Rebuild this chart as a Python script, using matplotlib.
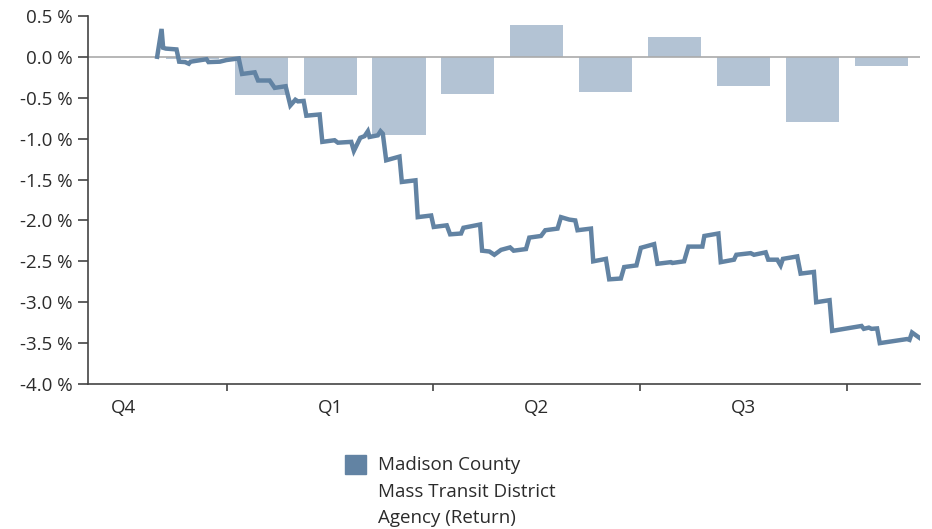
import matplotlib.pyplot as plt
from matplotlib.patches import Rectangle
from matplotlib.ticker import FixedLocator, FuncFormatter

plt.rcParams["font.family"] = ["Open Sans", "DejaVu Sans"]

# Monthly returns (%), bars centred in each month; x measured in months from 1 Jan
months = ["Dec", "Jan", "Feb", "Mar", "Apr", "May", "Jun", "Jul", "Aug", "Sep", "Oct"]
month_pos = [-0.5, 0.5, 1.5, 2.5, 3.5, 4.5, 5.5, 6.5, 7.5, 8.5, 9.5]
monthly_return = [-0.03, -0.47, -0.465, -0.958, -0.456, 0.387, -0.432, 0.244, -0.355, -0.795, -0.11]

# Cumulative return (%) over time, x in months from 1 Jan
cum_x = [-1.01, -0.946, -0.923, -0.884, -0.729, -0.691, -0.604, -0.551, -0.526, -0.294,
         -0.265, -0.101, -0.004, 0.174, 0.222, 0.406, 0.454, 0.623, 0.696, 0.855,
         0.923, 0.996, 1.033, 1.116, 1.155, 1.348, 1.387, 1.565, 1.613, 1.807,
         1.845, 1.938, 2.0, 2.048, 2.072, 2.193, 2.232, 2.265, 2.314, 2.507,
         2.541, 2.739, 2.772, 2.967, 3.004, 3.193, 3.242, 3.401, 3.435, 3.677,
         3.706, 3.812, 3.884, 3.981, 4.112, 4.164, 4.343, 4.391, 4.561, 4.623,
         4.801, 4.851, 4.971, 5.058, 5.091, 5.286, 5.319, 5.503, 5.551, 5.720,
         5.768, 5.946, 6.010, 6.203, 6.251, 6.445, 6.468, 6.638, 6.700, 6.903,
         6.932, 7.135, 7.170, 7.362, 7.396, 7.604, 7.652, 7.822, 7.859, 7.990,
         8.039, 8.072, 8.280, 8.329, 8.522, 8.555, 8.749, 8.787, 9.213, 9.246,
         9.319, 9.358, 9.439, 9.478, 9.874, 9.909, 9.946, 10.054]
cum_return = [0.0, 0.34, 0.11, 0.10, 0.09, -0.06, -0.065, -0.085, -0.06, -0.03,
              -0.065, -0.06, -0.04, -0.02, -0.21, -0.19, -0.29, -0.29, -0.38, -0.36,
              -0.595, -0.525, -0.545, -0.54, -0.72, -0.705, -1.04, -1.02, -1.05, -1.04,
              -1.15, -0.99, -0.97, -0.91, -0.98, -0.96, -0.91, -0.94, -1.265, -1.22,
              -1.53, -1.51, -1.96, -1.94, -2.08, -2.06, -2.17, -2.16, -2.09, -2.05,
              -2.37, -2.38, -2.42, -2.36, -2.33, -2.37, -2.35, -2.21, -2.19, -2.12,
              -2.10, -1.96, -1.99, -2.0, -2.12, -2.10, -2.50, -2.47, -2.72, -2.71,
              -2.57, -2.55, -2.335, -2.29, -2.53, -2.51, -2.52, -2.50, -2.32, -2.32,
              -2.19, -2.16, -2.51, -2.48, -2.42, -2.40, -2.42, -2.39, -2.48, -2.48,
              -2.55, -2.47, -2.44, -2.65, -2.63, -3.0, -2.975, -3.35, -3.29, -3.325,
              -3.31, -3.325, -3.32, -3.50, -3.45, -3.46, -3.37, -3.435]

quarter_edges = [0, 3, 6, 9]
quarter_centers = [-1.5, 1.5, 4.5, 7.5]
quarter_labels = ["Q4", "Q1", "Q2", "Q3"]
yticks = [0.5, 0.0, -0.5, -1.0, -1.5, -2.0, -2.5, -3.0, -3.5, -4.0]

line_color = "#6283a3"
bar_color = "#b3c3d4"
text_color = "#2b2b2b"

fig = plt.figure(figsize=(9.32, 5.29), dpi=100)
ax = fig.add_axes([0.0947, 0.274, 0.987 - 0.0947, 0.970 - 0.274])

ax.bar(month_pos, monthly_return, width=0.77, color=bar_color, zorder=1)
ax.axhline(0, color="#aaaaaa", lw=1.2, zorder=2)
ax.plot(cum_x, cum_return, color=line_color, lw=3.2, solid_joinstyle="miter", zorder=3)

ax.set_xlim(-2.01, 10.06)
ax.set_ylim(-4.0, 0.5)

for side in ("top", "right"):
    ax.spines[side].set_visible(False)
for side in ("left", "bottom"):
    ax.spines[side].set_color("#444444")
    ax.spines[side].set_linewidth(1.2)

ax.yaxis.set_major_locator(FixedLocator(yticks))
ax.yaxis.set_major_formatter(FuncFormatter(lambda v, p: f"{v:.1f} %"))
ax.tick_params(axis="y", length=7, width=1.2, color="#444444", pad=4,
               labelsize=13.5, labelcolor=text_color)

ax.set_xticks(quarter_edges)
ax.set_xticklabels([])
ax.set_xticks(quarter_centers, minor=True)
ax.set_xticklabels(quarter_labels, minor=True)
ax.tick_params(axis="x", which="major", length=5, width=1.2, color="#444444")
ax.tick_params(axis="x", which="minor", length=0, pad=11,
               labelsize=13.5, labelcolor=text_color)

# legend: swatch plus three-line label
fig.patches.append(Rectangle((345 / 932, 1 - 474 / 529), 21 / 932, 19 / 529,
                             transform=fig.transFigure, color=line_color))
fig.text(378 / 932, 1 - 456 / 529,
         "Madison County\nMass Transit District\nAgency (Return)",
         ha="left", va="top", fontsize=13.5, color=text_color, linespacing=1.62)

fig.savefig("out.png", dpi=100)
